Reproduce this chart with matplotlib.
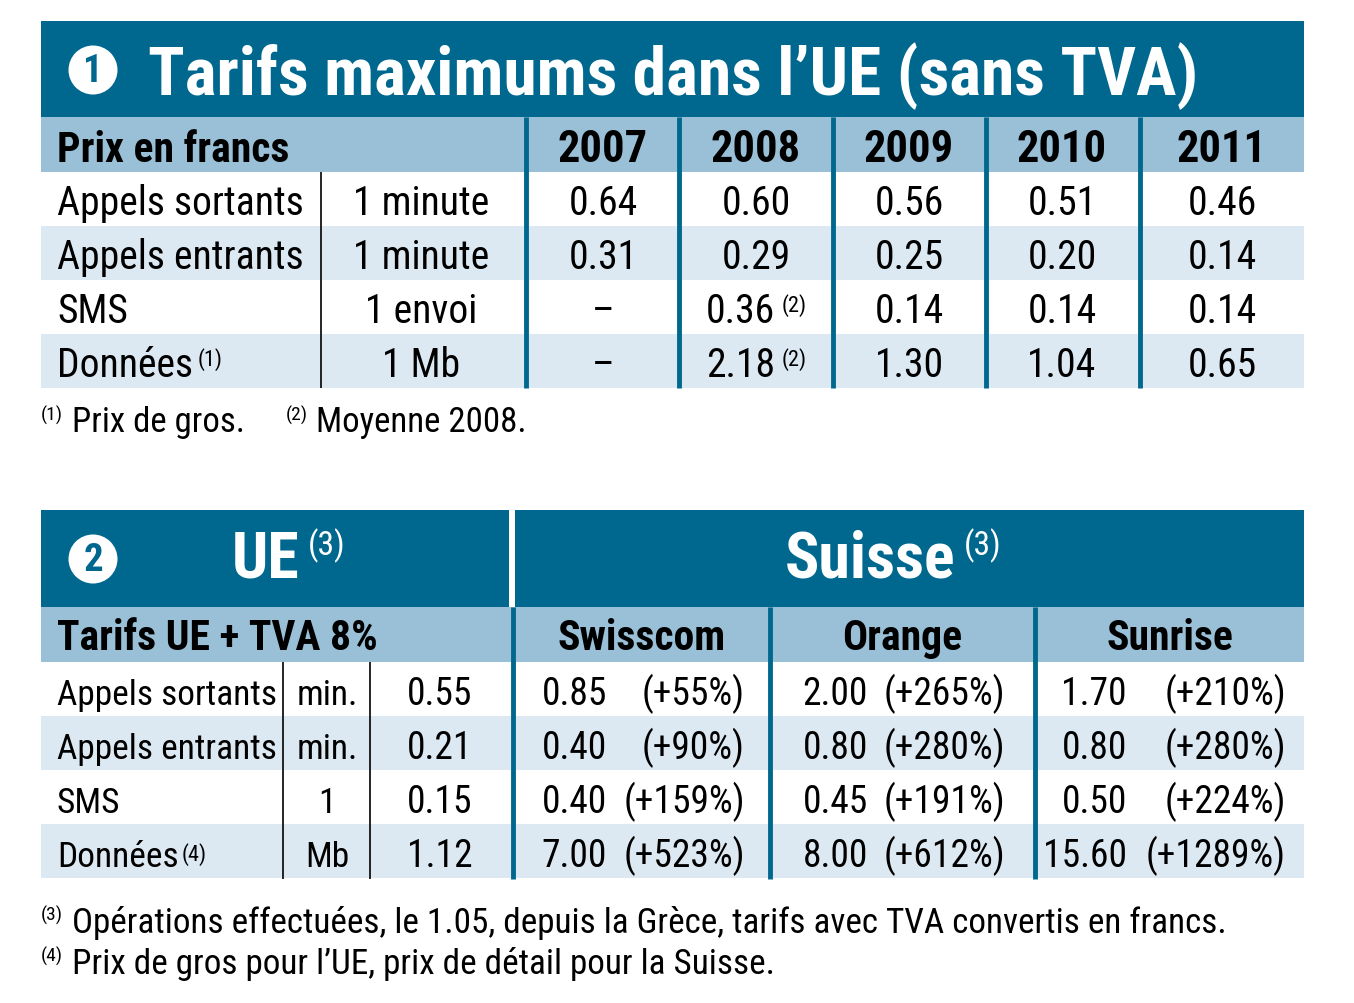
import matplotlib
matplotlib.use("Agg")
import matplotlib.pyplot as plt
from matplotlib.patches import Rectangle, Circle
from matplotlib import font_manager

# pick a narrow sans if one is installed
names = set(f.name for f in font_manager.fontManager.ttflist)
FONT = "DejaVu Sans"
for cand in ["Roboto Condensed", "Liberation Sans Narrow", "Open Sans Condensed", "Noto Sans Condensed", "DejaVu Sans Condensed"]:
    if cand in names:
        FONT = cand
        break
plt.rcParams["font.family"] = [FONT, "DejaVu Sans"]

DARK = "#00688f"
HEAD = "#99c0d6"
LIGHT = "#dde9f2"

# ---- data, table 1
years = ["2007", "2008", "2009", "2010", "2011"]
services = ["Appels sortants", "Appels entrants", "SMS", "Données"]
units1 = ["1 minute", "1 minute", "1 envoi", "1 Mb"]
outgoing = ["0.64", "0.60", "0.56", "0.51", "0.46"]
incoming = ["0.31", "0.29", "0.25", "0.20", "0.14"]
sms = ["–", "0.36", "0.14", "0.14", "0.14"]
data_mb = ["–", "2.18", "1.30", "1.04", "0.65"]
table1 = [outgoing, incoming, sms, data_mb]
notes1 = {(2, 1): "(2)", (3, 1): "(2)"}

# ---- data, table 2
units2 = ["min.", "min.", "1", "Mb"]
ue_tva = ["0.55", "0.21", "0.15", "1.12"]
operators = ["Swisscom", "Orange", "Sunrise"]
swisscom = ["0.85", "0.40", "0.40", "7.00"]
swisscom_pct = ["(+55%)", "(+90%)", "(+159%)", "(+523%)"]
orange = ["2.00", "0.80", "0.45", "8.00"]
orange_pct = ["(+265%)", "(+280%)", "(+191%)", "(+612%)"]
sunrise = ["1.70", "0.80", "0.50", "15.60"]
sunrise_pct = ["(+210%)", "(+280%)", "(+224%)", "(+1289%)"]
op_prices = [swisscom, orange, sunrise]
op_pcts = [swisscom_pct, orange_pct, sunrise_pct]

fig = plt.figure(figsize=(13.54, 10.04), dpi=100)
ax = fig.add_axes([0, 0, 1, 1])
ax.set_xlim(0, 1354)
ax.set_ylim(1004, 0)
ax.axis("off")

L, R = 41, 1304
BODY = 28.5
BODY2 = 25.5
HEADFS = 30
SUP = 16


def rect(x0, y0, x1, y1, c):
    ax.add_patch(Rectangle((x0, y0), x1 - x0, y1 - y0, facecolor=c, edgecolor="none"))


def vline(x, y0, y1, c, lw):
    ax.plot([x, x], [y0, y1], color=c, lw=lw, solid_capstyle="butt")


def txt(x, y, s, **kw):
    kw.setdefault("fontsize", BODY)
    kw.setdefault("va", "baseline")
    return ax.text(x, y, s, **kw)


def sup(t, s, dx=4, dy=-3, **kw):
    # small note placed at the top right of text t
    kw.setdefault("fontsize", SUP)
    return ax.annotate(s, xy=(1, 1), xycoords=t, xytext=(dx, dy),
                       textcoords="offset pixels", ha="left", va="top", **kw)


def badge(x, y, n):
    ax.add_patch(Circle((x, y), 24.5, facecolor="white", edgecolor="none"))
    txt(x, y + 1, n, ha="center", va="center", fontsize=28, fontweight="bold", color=DARK)


# ================= table 1
rect(L, 22, R, 118, DARK)
badge(93, 71, "1")
txt(148, 95, "Tarifs maximums dans l’UE (sans TVA)", fontsize=48.5, fontweight="bold", color="white")
rect(L, 118, R, 173, HEAD)
txt(57, 162, "Prix en francs", fontsize=HEADFS, fontweight="bold")
col_x = [603, 756, 909, 1062, 1222]
for x, y in zip(col_x, years):
    txt(x, 162, y, ha="center", fontsize=32, fontweight="bold")

row_h = 54
for i, serv in enumerate(services):
    top = 173 + i * row_h
    rect(L, top, R, top + row_h, "white" if i % 2 == 0 else LIGHT)
    base = top + 42
    t = txt(57, base, serv)
    if serv == "Données":
        sup(t, "(1)", dx=5, dy=-2)
    txt(421, base, units1[i], ha="center")
    for j, v in enumerate(table1[i]):
        if (i, j) in notes1:
            t = txt(col_x[j] + 19, base, v, ha="right")
            sup(t, notes1[(i, j)], dx=7, dy=-2)
        else:
            txt(col_x[j], base, v, ha="center")

vline(321, 173, 389, "black", 1.2)
for x in [526, 679, 833, 986, 1140]:
    vline(x, 118, 389, DARK, 3.5)

t = txt(72, 432, "Prix de gros.", fontsize=25)
txt(41, 421, "(1)", fontsize=14)
txt(286, 421, "(2)", fontsize=14)
txt(316, 432, "Moyenne 2008.", fontsize=25)

# ================= table 2
rect(L, 511, 509, 608, DARK)
rect(515, 511, R, 608, DARK)
badge(93, 560, "2")
t = txt(232, 578, "UE", fontsize=46, fontweight="bold", color="white")
sup(t, "(3)", dx=8, dy=2, fontsize=24, color="white")
t = txt(785, 578, "Suisse", fontsize=46, fontweight="bold", color="white")
sup(t, "(3)", dx=8, dy=2, fontsize=24, color="white")

rect(L, 608, R, 663, HEAD)
txt(57, 650, "Tarifs UE + TVA 8%", fontsize=HEADFS, fontweight="bold")
op_edges = [513, 770, 1035, R]
for k, op in enumerate(operators):
    txt((op_edges[k] + op_edges[k + 1]) / 2, 650, op, ha="center", fontsize=HEADFS, fontweight="bold")

price_right = [607, 868, 1127]
pct_right = [745, 1005, 1286]
for i, serv in enumerate(services):
    top = 663 + i * row_h
    rect(L, top, R, top + row_h, "white" if i % 2 == 0 else LIGHT)
    base = top + 42
    t = txt(57, base, serv, fontsize=BODY2)
    if serv == "Données":
        sup(t, "(4)", dx=3, dy=-2)
    txt(327, base, units2[i], ha="center", fontsize=BODY2)
    txt(440, base, ue_tva[i], ha="center", fontsize=27)
    for k in range(3):
        txt(price_right[k], base, op_prices[k][i], ha="right", fontsize=27)
        txt(pct_right[k], base, op_pcts[k][i], ha="right", fontsize=27)

vline(283, 663, 880, "black", 1.2)
vline(370, 663, 880, "black", 1.2)
for x in [513, 770, 1035]:
    vline(x, 608, 880, DARK, 3.5)

txt(41, 921, "(3)", fontsize=14)
txt(72, 933, "Opérations effectuées, le 1.05, depuis la Grèce, tarifs avec TVA convertis en francs.", fontsize=25.3)
txt(41, 962, "(4)", fontsize=14)
txt(72, 974, "Prix de gros pour l’UE, prix de détail pour la Suisse.", fontsize=25.3)

fig.savefig("out.png", dpi=100)
